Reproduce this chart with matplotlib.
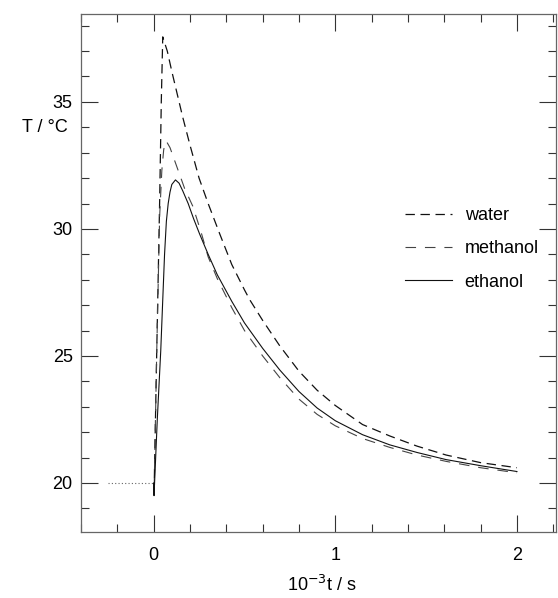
import matplotlib
matplotlib.use("Agg")
import matplotlib.pyplot as plt
from matplotlib.ticker import MultipleLocator

plt.rcParams['font.family'] = ['Liberation Sans', 'DejaVu Sans']

# Daten
base_t = [-0.25, 0.0]
base_T = [20.0, 20.0]

water_t = [0.0, 0.002, 0.017, 0.033, 0.042, 0.05, 0.075, 0.1, 0.13, 0.16, 0.2,
           0.25, 0.3, 0.364, 0.43, 0.5, 0.53, 0.6, 0.694, 0.8, 0.9, 1.0, 1.15,
           1.3, 1.45, 1.61, 1.8, 2.0]
water_T = [20.0, 19.5, 25.2, 31.1, 35.0, 37.56, 37.0, 36.2, 35.3, 34.4, 33.3,
           32.0, 31.0, 29.8, 28.6, 27.6, 27.2, 26.4, 25.4, 24.4, 23.65, 23.05, 22.3,
           21.85, 21.45, 21.1, 20.8, 20.6]

meth_t = [0.0, 0.002, 0.017, 0.033, 0.045, 0.055, 0.063, 0.07, 0.09, 0.11, 0.13,
          0.17, 0.215, 0.26, 0.3, 0.35, 0.43, 0.5, 0.6, 0.694, 0.8, 0.9, 1.0,
          1.15, 1.3, 1.45, 1.61, 1.8, 2.0]
meth_T = [20.0, 19.5, 25.2, 30.5, 32.3, 33.1, 33.4, 33.45, 33.2, 32.8, 32.4,
          31.6, 30.9, 29.9, 28.9, 28.05, 26.9, 26.0, 25.0, 24.15, 23.3, 22.7, 22.25,
          21.75, 21.4, 21.1, 20.85, 20.6, 20.4]

eth_t = [0.0, 0.002, 0.02, 0.039, 0.05, 0.06, 0.07, 0.08, 0.09, 0.1, 0.12,
         0.14, 0.16, 0.19, 0.22, 0.253, 0.3, 0.35, 0.43, 0.5, 0.6, 0.694, 0.8,
         0.9, 1.0, 1.15, 1.3, 1.45, 1.61, 1.8, 2.0]
eth_T = [20.0, 19.5, 22.5, 25.2, 27.2, 29.0, 30.3, 31.0, 31.45, 31.75, 31.93,
         31.8, 31.5, 31.0, 30.4, 29.8, 29.0, 28.2, 27.15, 26.3, 25.3, 24.45, 23.6,
         22.95, 22.45, 21.9, 21.5, 21.2, 20.92, 20.68, 20.45]

fig = plt.figure(figsize=(5.58, 5.98), dpi=100)
ax = fig.add_axes([81 / 558, 66 / 598, 475 / 558, 518 / 598])

ax.plot(base_t, base_T, color="#666666", lw=0.8, linestyle=(0, (1, 2)))
ax.plot(water_t, water_T, color="#111111", lw=0.9, dashes=(7.5, 4.5), label="water")
ax.plot(meth_t, meth_T, color="#444444", lw=0.8, dashes=(9.5, 8), label="methanol")
ax.plot(eth_t, eth_T, color="#111111", lw=0.8, label="ethanol")

ax.set_xlim(-0.4, 2.215)
ax.set_ylim(18.07, 38.46)

ax.xaxis.set_major_locator(MultipleLocator(1))
ax.xaxis.set_minor_locator(MultipleLocator(0.2))
ax.yaxis.set_major_locator(MultipleLocator(5))
ax.yaxis.set_minor_locator(MultipleLocator(1))

ax.tick_params(which="both", direction="in", top=True, right=True,
               width=0.8, color="#333333", labelsize=13)
ax.tick_params(which="major", length=12)
ax.tick_params(which="minor", length=5.5)
ax.tick_params(axis="x", which="major", pad=11)
ax.tick_params(axis="y", which="major", pad=6)

for s in ax.spines.values():
    s.set_color("#666666")
    s.set_linewidth(0.9)

fig.text(45 / 558, 1 - 128 / 598, "T / °C", fontsize=13, ha="center", va="center")
fig.text(322 / 558, 1 - 585 / 598, r"10$^{-3}$t / s", fontsize=13,
         ha="center", va="center")

ax.legend(loc="upper left", bbox_to_anchor=(0.682, 0.627), frameon=False,
          fontsize=13, handlelength=2.6, handletextpad=0.7, labelspacing=0.9,
          borderaxespad=0, borderpad=0)

fig.savefig("out.png", dpi=100)
